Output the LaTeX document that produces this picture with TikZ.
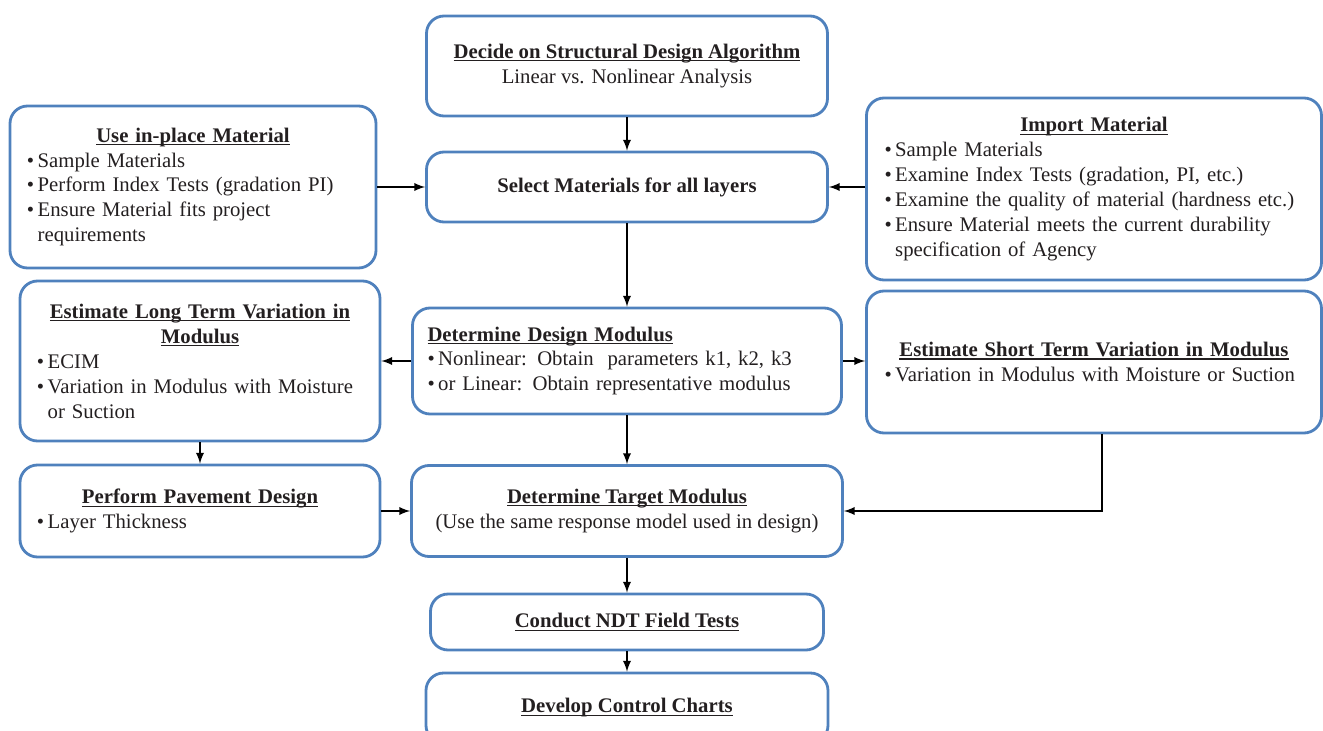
\documentclass[tikz,border=0pt]{standalone}
\usepackage{fontspec}
\setmainfont{Liberation Serif}

\definecolor{boxblue}{RGB}{79,129,189}
\definecolor{ink}{RGB}{35,31,32}

% bold title with a rule just under the baseline
\newsavebox{\ttlbox}
\newcommand{\ttl}[1]{\leavevmode\sbox{\ttlbox}{\textbf{#1}}\rlap{\rule[-1.7pt]{\wd\ttlbox}{0.6pt}}\usebox{\ttlbox}}
\newcommand{\heading}[1]{{\centering\ttl{#1}\par}}
\newcommand{\itm}{\textbullet\,}
\newcommand{\cnt}{\phantom{\textbullet\,}}

\begin{document}
\begin{tikzpicture}[
    x=0.2mm, y=-0.2mm,
    font=\fontsize{11.8}{14.2}\selectfont,
    box/.style={draw=boxblue, line width=1.6pt, rectangle, rounded corners=10pt, align=center, text=ink},
    listbox/.style={box, align=left},
    line/.style={draw, line width=1.1pt, -latex}
]
\useasboundingbox (0,0) rectangle (1323,731);

% middle column
\node[box, minimum width=8.02cm, minimum height=2cm] (algo) at (627,66) {\ttl{Decide on Structural Design Algorithm}\\Linear vs. Nonlinear Analysis};
\node[box, minimum width=8.02cm, minimum height=1.4cm] (select) at (627,187) {\textbf{Select Materials for all layers}};
\node[box, minimum width=8.58cm, minimum height=2.12cm, text width=7.98cm, align=left] (design) at (627,361) {\ttl{Determine Design Modulus}\\\itm Nonlinear: Obtain~ parameters k1, k2, k3\\\itm or Linear: Obtain representative modulus};
\node[box, minimum width=8.62cm, minimum height=1.82cm] (target) at (627,511) {\ttl{Determine Target Modulus}\\(Use the same response model used in design)};
\node[box, minimum width=7.86cm, minimum height=1.12cm] (ndt) at (627,622) {\ttl{Conduct NDT Field Tests}};
\node[box, minimum width=8.04cm, minimum height=1.4cm] (charts) at (627,708) {\ttl{Develop Control Charts}};

% left column
\node[listbox, minimum width=7.32cm, minimum height=3.24cm, text width=6.64cm] (inplace) at (193,187) {\heading{Use in-place Material}\itm Sample Materials\\\itm Perform Index Tests (gradation PI)\\\itm Ensure Material fits project\\\cnt requirements};
\node[listbox, minimum width=7.2cm, minimum height=3.2cm, text width=6.52cm] (longterm) at (200,361) {\heading{Estimate Long Term Variation in}\heading{Modulus}\itm ECIM\\\itm Variation in Modulus with Moisture\\\cnt or Suction};
\node[listbox, minimum width=7.2cm, minimum height=1.84cm, text width=6.52cm] (pavement) at (200,511) {\heading{Perform Pavement Design}\itm Layer Thickness};

% right column
\node[listbox, minimum width=9.1cm, minimum height=3.64cm, text width=8.38cm] (import) at (1094,189) {\heading{Import Material}\itm Sample Materials\\\itm Examine Index Tests (gradation, PI, etc.)\\\itm Examine the quality of material (hardness etc.)\\\itm Ensure Material meets the current durability\\\cnt specification of Agency};
\node[listbox, minimum width=9.1cm, minimum height=2.84cm, text width=8.38cm] (shortterm) at (1094,362) {\heading{Estimate Short Term Variation in Modulus}\itm Variation in Modulus with Moisture or Suction};

\draw[line] (algo) -- (select);
\draw[line] (inplace) -- (select);
\draw[line] (import.west |- select.east) -- (select.east);
\draw[line] (select) -- (design);
\draw[line] (design) -- (longterm);
\draw[line] (design) -- (shortterm.west |- design.east);
\draw[line] (longterm) -- (pavement);
\draw[line] (design) -- (target);
\draw[line] (pavement) -- (target);
\draw[line] ([xshift=4.5pt]shortterm.south) |- (target.east);
\draw[line] (target) -- (ndt);
\draw[line] (ndt) -- (charts);

\end{tikzpicture}
\end{document}
